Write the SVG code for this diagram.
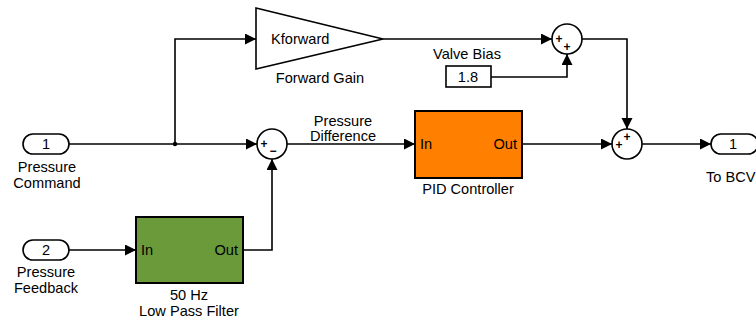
<svg xmlns="http://www.w3.org/2000/svg" width="756" height="323" viewBox="0 0 756 323">
<style>
text{font-family:"Liberation Sans",Arial,sans-serif;font-size:14.6px;fill:#000}
.c{text-anchor:middle}
.r{text-anchor:end}
.port{fill:#fff;stroke:#000;stroke-width:1.6}
.blk{stroke:#000;stroke-width:2}
.sum{fill:#fff;stroke:#000;stroke-width:1.6}
.sg{font-size:12px;font-weight:bold;text-anchor:middle}
#conn path{fill:none;stroke:#000;stroke-width:1.6;marker-end:url(#ah)}
</style>
<defs>
<marker id="ah" markerUnits="userSpaceOnUse" markerWidth="12" markerHeight="12" refX="11" refY="5.5" orient="auto">
<path d="M0,0 L11,5.5 L0,11 z" fill="#000"/>
</marker>
</defs>
<rect width="756" height="323" fill="#fff"/>
<g id="conn">
<path d="M69,144 H257"/>
<path d="M175,144 V39 H256"/>
<path d="M383,39 H552"/>
<path d="M491,77 H567 V54"/>
<path d="M582,39 H627 V129"/>
<path d="M287,144 H415"/>
<path d="M522,144 H612"/>
<path d="M642,144 H711"/>
<path d="M69,250 H136"/>
<path d="M243,250 H272 V159"/>
<circle cx="175" cy="144" r="2.2" fill="#000"/>
<text class="c" x="343" y="126">Pressure</text>
<text class="c" x="343" y="141">Difference</text>
</g>
<g id="in1">
<rect class="port" x="23" y="134" width="46" height="20" rx="10"/>
<text class="c" x="46" y="149">1</text>
<text class="c" x="47" y="172">Pressure</text>
<text class="c" x="47" y="188">Command</text>
</g>
<g id="in2">
<rect class="port" x="23" y="240" width="46" height="20" rx="10"/>
<text class="c" x="46" y="255">2</text>
<text class="c" x="46" y="277">Pressure</text>
<text class="c" x="46" y="293">Feedback</text>
</g>
<g id="gain">
<polygon points="256,8 383,39 256,69" fill="#fff" stroke="#000" stroke-width="1.6"/>
<text x="271" y="44">Kforward</text>
<text class="c" x="320" y="83">Forward Gain</text>
</g>
<g id="bias">
<rect x="446" y="66" width="45" height="21" fill="#fff" stroke="#000" stroke-width="1.6"/>
<text class="c" x="468" y="82">1.8</text>
<text class="c" x="467" y="59">Valve Bias</text>
</g>
<g id="sum1">
<circle class="sum" cx="272" cy="144" r="15"/>
<text class="sg" x="264" y="148">+</text>
<text class="sg" x="273" y="155">−</text>
</g>
<g id="sum2">
<circle class="sum" cx="567" cy="39" r="15"/>
<text class="sg" x="559" y="43">+</text>
<text class="sg" x="567" y="51">+</text>
</g>
<g id="sum3">
<circle class="sum" cx="627" cy="144" r="15"/>
<text class="sg" x="619" y="149">+</text>
<text class="sg" x="627" y="141">+</text>
</g>
<g id="pid">
<rect class="blk" x="415" y="111" width="107" height="67" fill="#FF8000"/>
<text x="420" y="149">In</text>
<text class="r" x="517" y="149">Out</text>
<text class="c" x="468" y="194">PID Controller</text>
</g>
<g id="lpf">
<rect class="blk" x="136" y="217" width="107" height="66" fill="#6B9A3B"/>
<text x="141" y="255">In</text>
<text class="r" x="238" y="255">Out</text>
<text class="c" x="189" y="300">50 Hz</text>
<text class="c" x="189" y="316">Low Pass Filter</text>
</g>
<g id="out1">
<rect class="port" x="711" y="134" width="47" height="20" rx="10"/>
<text class="c" x="733" y="149">1</text>
<text x="706" y="182">To BCV</text>
</g>
</svg>
